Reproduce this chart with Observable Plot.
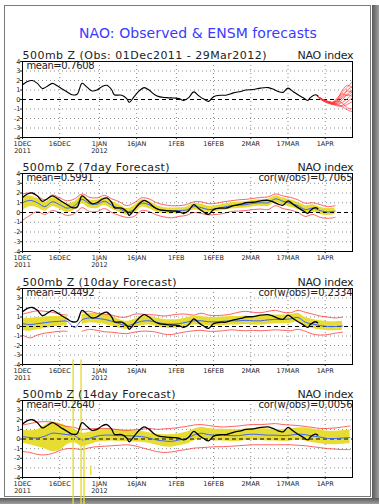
<!DOCTYPE html>
<html><head><meta charset="utf-8">
<script src="https://cdn.jsdelivr.net/npm/d3@7"></script>
<script src="https://cdn.jsdelivr.net/npm/@observablehq/plot@0.6"></script>
<style>
body{margin:0;background:#fff;}
#wrap{position:relative;width:379px;height:504px;overflow:hidden;background:#fff;}
.border{position:absolute;left:4px;top:5px;width:365px;height:490px;border:1px solid #7a7a7a;}
.shR{position:absolute;left:372px;top:5px;width:7px;height:499px;background:linear-gradient(to right,#5a5a5a,#a0a0a0);}
.shB{position:absolute;left:0;top:498px;width:379px;height:6px;background:linear-gradient(to bottom,#5a5a5a,#a0a0a0);}
#title{position:absolute;left:79px;top:25px;white-space:nowrap;font:14px/16px "DejaVu Sans";color:#3a3aff;}
.panel{position:absolute;left:0;}
</style></head>
<body><div id="wrap"><div class="border"></div><div class="shR"></div><div class="shB"></div>
<div id="title">NAO: Observed &amp; ENSM forecasts</div></div>
<script>
// ---- axis ticks ----
const tickDays = [0,15,31,46,62,77,92,107,122];
const tickLabels = ["1DEC\n2011","16DEC","1JAN\n2012","16JAN","1FEB","16FEB","2MAR","17MAR","1APR"];
const yTicks = [-4,-3,-2,-1,0,1,2,3,4];

// ---- observed NAO (day offset from 1 Dec 2011) ----
const obsDays = [0,2,4,6,8,10,12,14,16,18,20,22,24,26,28,30,32,34,36,37,40,42,43,45,47,49,51,53,55,58,61,63,65,67,69,71,73,75,77,80,82,85,88,90,93,96,99,101,103,105,107,109,111,113,115,116,118,119];
const obsVals = [1.55,1.9,2.0,1.7,1.15,1.4,1.7,1.45,1.1,0.8,0.5,0.55,1.7,1.3,0.9,1.0,1.35,1.5,1.0,0.5,0.45,0.1,-0.3,0.3,0.9,1.25,1.0,0.55,0.3,0.2,0.15,0.1,-0.1,0.2,0.8,0.4,0.05,-0.2,0.3,0.45,0.45,0.7,0.85,1.0,1.05,1.2,1.25,1.1,0.85,0.75,1.2,0.85,0.5,0.2,-0.1,0.2,0.5,0.4];

// ---- panel 1 ensemble spaghetti ----
const ensDays = [119,121,123,125,127,129,131,133];
const ensMembers = [
 [0.3,0.0,-0.2,-0.3,0.2,0.8,1.3,1.9],
 [0.3,-0.1,-0.3,-0.4,-0.1,0.5,1.0,1.4],
 [0.3,-0.1,-0.3,-0.5,-0.4,0.0,0.6,1.0],
 [0.3,0.0,-0.2,-0.4,-0.6,-0.8,-1.1,-1.3],
 [0.3,-0.1,-0.3,-0.5,-0.5,-0.3,0.1,0.6],
 [0.3,0.0,-0.2,-0.3,0.0,0.6,0.4,0.9],
 [0.3,-0.1,-0.3,-0.4,-0.5,-0.7,-0.5,-0.2],
 [0.3,0.0,-0.2,-0.3,-0.2,0.3,0.9,0.7],
 [0.3,-0.1,-0.4,-0.5,-0.3,0.2,0.5,0.3],
 [0.3,0.0,-0.3,-0.4,-0.2,-0.4,-0.9,-1.0],
 [0.3,-0.1,-0.2,-0.3,0.1,1.0,1.5,1.2],
 [0.3,0.0,-0.3,-0.5,-0.7,-0.6,-0.2,0.2]
];

// ---- 7-day forecast ----
const days7 = d3.range(0,127,3);
const mean7 = [1.0,1.25,1.0,0.6,1.1,0.8,0.45,0.7,1.35,0.9,0.85,1.15,0.75,0.4,0.05,0.3,0.95,0.8,0.4,0.2,0.15,0.2,0.25,0.6,0.5,0.3,0.4,0.55,0.7,0.75,0.8,0.95,1.0,1.0,1.4,1.15,0.95,0.7,0.3,0.45,0.2,0.05,0.15];
const hi7 = [1.6,1.7,1.45,1.05,1.5,1.25,0.9,1.1,1.7,1.3,1.25,1.5,1.15,0.8,0.4,0.7,1.3,1.15,0.75,0.5,0.45,0.5,0.55,0.9,0.85,0.65,0.7,0.85,1.0,1.05,1.1,1.25,1.3,1.35,1.7,1.5,1.3,1.05,0.7,0.8,0.55,0.4,0.45];
const lo7 = [0.2,0.6,0.5,0.15,0.6,0.35,0.0,0.25,0.9,0.45,0.4,0.75,0.35,0.0,-0.25,-0.1,0.55,0.4,0.05,-0.1,-0.15,-0.1,-0.05,0.25,0.15,0.0,0.1,0.2,0.35,0.4,0.45,0.6,0.65,0.6,1.0,0.75,0.55,0.3,-0.1,0.05,-0.2,-0.3,-0.2];
const max7 = [1.9,2.0,1.7,1.3,1.8,1.5,1.2,1.4,1.9,1.55,1.5,1.75,1.4,1.1,0.7,1.0,1.5,1.4,1.0,0.8,0.7,0.7,0.8,1.1,1.1,0.9,0.95,1.1,1.2,1.3,1.35,1.45,1.55,1.6,1.9,1.7,1.55,1.3,0.95,1.0,0.8,0.6,0.7];
const min7 = [-0.8,-0.3,0.1,-0.2,0.2,0.0,-0.3,-0.1,0.5,0.1,0.1,0.4,0.0,-0.3,-0.5,-0.4,0.2,0.1,-0.25,-0.45,-0.55,-0.4,-0.3,0.0,-0.1,-0.25,-0.2,-0.1,0.1,0.15,0.2,0.3,0.35,0.3,0.7,0.4,0.25,0.0,-0.4,-0.2,-0.5,-0.6,-0.5];

// ---- 10-day forecast ----
const days10 = d3.range(0,130,3);
const mean10 = [0.3,0.2,0.3,0.4,0.5,0.55,0.55,-0.1,0.7,0.9,0.85,0.75,0.55,0.3,0.1,0.3,0.55,0.6,0.45,0.3,0.25,0.3,0.45,0.6,0.6,0.5,0.5,0.55,0.6,0.6,0.65,0.6,0.6,0.7,0.75,0.75,0.8,0.95,0.45,0.25,0.1,0.0,0.0,0.05];
const hi10 = [0.9,0.85,0.95,1.0,1.05,1.05,1.0,NaN,1.25,1.4,1.35,1.25,1.05,0.75,0.55,0.75,1.0,1.05,0.9,0.75,0.7,0.75,0.9,1.05,1.05,0.95,0.95,1.0,1.05,1.05,1.1,1.05,1.05,1.15,1.2,1.2,1.25,1.4,0.95,0.75,0.6,0.5,0.5,0.55];
const lo10 = [-0.45,-0.5,-0.35,-0.2,-0.05,0.05,0.05,NaN,0.2,0.4,0.35,0.25,0.05,-0.15,-0.3,-0.15,0.1,0.15,0.0,-0.15,-0.2,-0.15,0.0,0.15,0.15,0.05,0.05,0.1,0.15,0.15,0.2,0.15,0.15,0.25,0.3,0.3,0.35,0.5,0.0,-0.2,-0.35,-0.45,-0.45,-0.4];
const max10 = [1.3,1.5,1.65,1.6,1.5,1.3,1.2,NaN,1.5,1.6,1.4,1.3,1.2,1.0,1.0,1.3,1.3,1.25,1.2,1.1,1.2,1.3,1.3,1.2,1.4,1.2,1.15,1.2,1.3,1.5,1.6,1.5,1.45,1.6,1.7,1.5,1.45,1.7,1.5,1.3,1.1,1.0,0.9,1.0];
const min10 = [-0.9,-1.2,-0.9,-0.7,-0.6,-0.5,-0.5,NaN,-0.5,-0.3,-0.4,-0.55,-0.6,-0.7,-0.75,-0.6,-0.5,-0.5,-0.6,-0.8,-0.85,-0.7,-0.55,-0.45,-0.4,-0.5,-0.5,-0.45,-0.35,-0.4,-0.45,-0.4,-0.45,-0.4,-0.35,-0.4,-0.45,-0.3,-0.5,-0.8,-0.9,-0.85,-0.7,-0.6];

// ---- 14-day forecast ----
const days14 = d3.range(0,133,3);
const mean14 = [0.25,0.15,0.1,0.3,0.6,0.55,0.45,0.35,-0.1,0.05,0.3,0.4,0.4,0.35,0.35,0.3,0.25,0.1,-0.1,-0.2,-0.25,-0.1,0.05,0.4,0.6,0.45,0.4,0.4,0.35,0.35,0.45,0.5,0.45,0.4,0.4,0.35,0.4,0.5,0.45,0.3,0.2,0.05,0.05,0.1,0.15];
const hi14 = [0.9,0.85,0.95,1.4,1.75,1.6,1.3,1.0,0.6,0.7,0.9,1.0,1.0,0.95,0.9,0.85,0.8,0.65,0.5,0.45,0.45,0.55,0.7,1.0,1.2,1.1,1.0,1.0,0.95,0.95,1.05,1.1,1.1,1.05,1.0,1.0,1.05,1.15,1.15,1.05,0.9,0.8,0.8,0.85,0.9];
const lo14 = [-0.45,-0.6,-0.8,-1.0,-1.3,-1.2,-0.6,-0.4,-0.8,-0.6,-0.35,-0.25,-0.2,-0.25,-0.25,-0.3,-0.35,-0.45,-0.65,-0.8,-0.85,-0.7,-0.55,-0.2,0.0,-0.1,-0.2,-0.2,-0.25,-0.25,-0.15,-0.1,-0.15,-0.2,-0.2,-0.25,-0.2,-0.1,-0.2,-0.4,-0.5,-0.6,-0.6,-0.55,-0.5];
const max14 = [1.45,1.6,1.75,1.8,1.75,1.5,1.3,1.2,1.0,1.05,1.1,1.1,1.05,0.95,0.9,0.95,1.0,1.1,1.0,1.05,1.1,1.2,1.3,1.45,1.5,1.4,1.3,1.25,1.3,1.35,1.45,1.5,1.5,1.55,1.6,1.5,1.45,1.4,1.3,1.2,1.1,1.1,1.15,1.25,1.35];
const min14 = [-1.3,-1.4,-1.6,-1.65,-1.5,-1.2,-1.0,-1.0,-1.1,-0.9,-0.8,-0.75,-0.7,-0.65,-0.6,-0.7,-0.9,-1.1,-1.3,-1.4,-1.35,-1.2,-1.1,-0.95,-0.9,-0.85,-0.8,-0.8,-0.75,-0.7,-0.65,-0.6,-0.6,-0.6,-0.6,-0.6,-0.6,-0.65,-0.7,-0.8,-0.9,-1.0,-1.05,-1.1,-1.1];

// missing-value streaks (yellow) crossing the bottom panels
const streakDays = [20.4,23.6,24.8,27.5];
const streakTop = [8.2,8.2,0.0,-2.8];
const streakBot = [-6.8,-6.8,-6.8,-3.8];

// ---- panel texts ----
const headers = ["500mb Z (Obs: 01Dec2011 - 29Mar2012)","500mb Z (7day Forecast)","500mb Z (10day Forecast)","500mb Z (14day Forecast)"];
const means = ["mean=0.7608","mean=0.5991","mean=0.4492","mean=0.2640"];
const cors = [null,"cor(w/obs)=0.7065","cor(w/obs)=0.2334","cor(w/obs)=0.0056"];
const frameTops = [61,173,288,400];
const frameHeights = [76,78,76,77];
// text widths measured on the reference (px)
const textWidths = new Map([
  ["500mb Z (Obs: 01Dec2011 - 29Mar2012)",244],["500mb Z (7day Forecast)",147],
  ["500mb Z (10day Forecast)",154],["500mb Z (14day Forecast)",153],["NAO index",56],
  ["mean=0.7608",68],["mean=0.5991",67],["mean=0.4492",68],["mean=0.2640",68],
  ["cor(w/obs)=0.7065",94],["cor(w/obs)=0.2334",94],["cor(w/obs)=0.0056",94]
]);

const YEL = "#e6dc32", BLUE = "#3c64ff", RED = "#ff3a3a";
const obs = obsDays.map((d,i)=>({d, v: obsVals[i]}));
const ens = ensMembers.flatMap((m,k)=>m.map((v,i)=>({d: ensDays[i], v, k})));
function fc(days, mean, lo, hi, mx, mn){
  return days.map((d,i)=>({d, mean: mean[i], lo: lo[i], hi: hi[i], mx: mx[i], mn: mn[i]}));
}
const fcs = [null, fc(days7,mean7,lo7,hi7,max7,min7), fc(days10,mean10,lo10,hi10,max10,min10), fc(days14,mean14,lo14,hi14,max14,min14)];
const streaks = streakDays.map((d,i)=>({d, y1: streakTop[i], y2: streakBot[i]}));

// title width fit
const title = document.getElementById("title");
const tw = title.getBoundingClientRect().width;
title.style.letterSpacing = ((238 - tw) / 30) + "px";

const MT = 24, MB = 22;
const wrap = document.getElementById("wrap");
for (let p = 0; p < 4; p++) {
  const marks = [
    Plot.gridX(tickDays, {stroke: "#8c8c8c", strokeOpacity: 1, strokeDasharray: "1,3"}),
    Plot.gridY(yTicks.filter(t=>t!==0 && Math.abs(t)!==4), {stroke: "#8c8c8c", strokeOpacity: 1, strokeDasharray: "1,3"})
  ];
  const f = fcs[p];
  if (f) {
    marks.push(
      Plot.areaY(f, {x: "d", y1: "lo", y2: "hi", fill: YEL, curve: "catmull-rom"}),
      Plot.lineY(f, {x: "d", y: "mx", stroke: RED, strokeWidth: 0.8, curve: "catmull-rom"}),
      Plot.lineY(f, {x: "d", y: "mn", stroke: RED, strokeWidth: 0.8, curve: "catmull-rom"})
    );
  }
  marks.push(Plot.ruleY([0], {stroke: "black", strokeWidth: 1, strokeDasharray: "4,3"}));
  if (f) {
    marks.push(Plot.lineY(f, {x: "d", y: "mean", stroke: BLUE, strokeWidth: 1, curve: "catmull-rom"}));
  } else {
    marks.push(Plot.lineY(ens, {x: "d", y: "v", z: "k", stroke: RED, strokeWidth: 0.7, curve: "catmull-rom"}));
  }
  if (p === 3) {
    marks.push(Plot.ruleX(streaks, {x: "d", y1: "y1", y2: "y2", stroke: YEL, strokeWidth: 1.4}));
  }
  marks.push(
    Plot.lineY(obs, {x: "d", y: "v", stroke: "black", strokeWidth: p === 0 ? 1.1 : 1.3, curve: "catmull-rom"}),
    Plot.frame({stroke: "black", strokeWidth: 1}),
    Plot.axisX({ticks: tickDays, tickFormat: d => tickLabels[tickDays.indexOf(d)], tickSize: 2, tickPadding: 2, fontSize: 6.5, lineHeight: 1.05, label: null}),
    Plot.axisY({ticks: yTicks, tickFormat: d => String(d), tickSize: 2, tickPadding: 0, fontSize: 6.5, label: null}),
    Plot.text([headers[p]], {text: d => d, frameAnchor: "top-left", textAnchor: "start", lineAnchor: "bottom", dx: 0, dy: -3, fontSize: 11, fill: "#222"}),
    Plot.text(["NAO index"], {text: d => d, frameAnchor: "top-right", textAnchor: "end", lineAnchor: "bottom", dx: 1, dy: -3, fontSize: 11, fill: "#222"}),
    Plot.text([means[p]], {text: d => d, frameAnchor: "top-left", textAnchor: "start", lineAnchor: "top", dx: 4, dy: 0.5, fontSize: 10, fill: "#222"})
  );
  if (cors[p]) marks.push(Plot.text([cors[p]], {text: d => d, frameAnchor: "top-right", textAnchor: "end", lineAnchor: "top", dx: 0, dy: 0.5, fontSize: 10, fill: "#222"}));
  const svg = Plot.plot({
    width: 379, height: MT + frameHeights[p] + MB,
    marginLeft: 22, marginRight: 27, marginTop: MT, marginBottom: MB,
    x: {type: "linear", domain: [0, 133]},
    y: {domain: [-4, 4]},
    style: {background: "transparent", overflow: "visible", fontFamily: "DejaVu Sans", color: "#222"},
    marks
  });
  svg.querySelectorAll("text").forEach(t => {
    const w = textWidths.get(t.textContent);
    if (w) { t.setAttribute("textLength", w); t.setAttribute("lengthAdjust", "spacing"); }
  });
  const div = document.createElement("div");
  div.className = "panel";
  div.style.top = (frameTops[p] - MT) + "px";
  div.appendChild(svg);
  wrap.appendChild(div);
}
</script></body></html>
